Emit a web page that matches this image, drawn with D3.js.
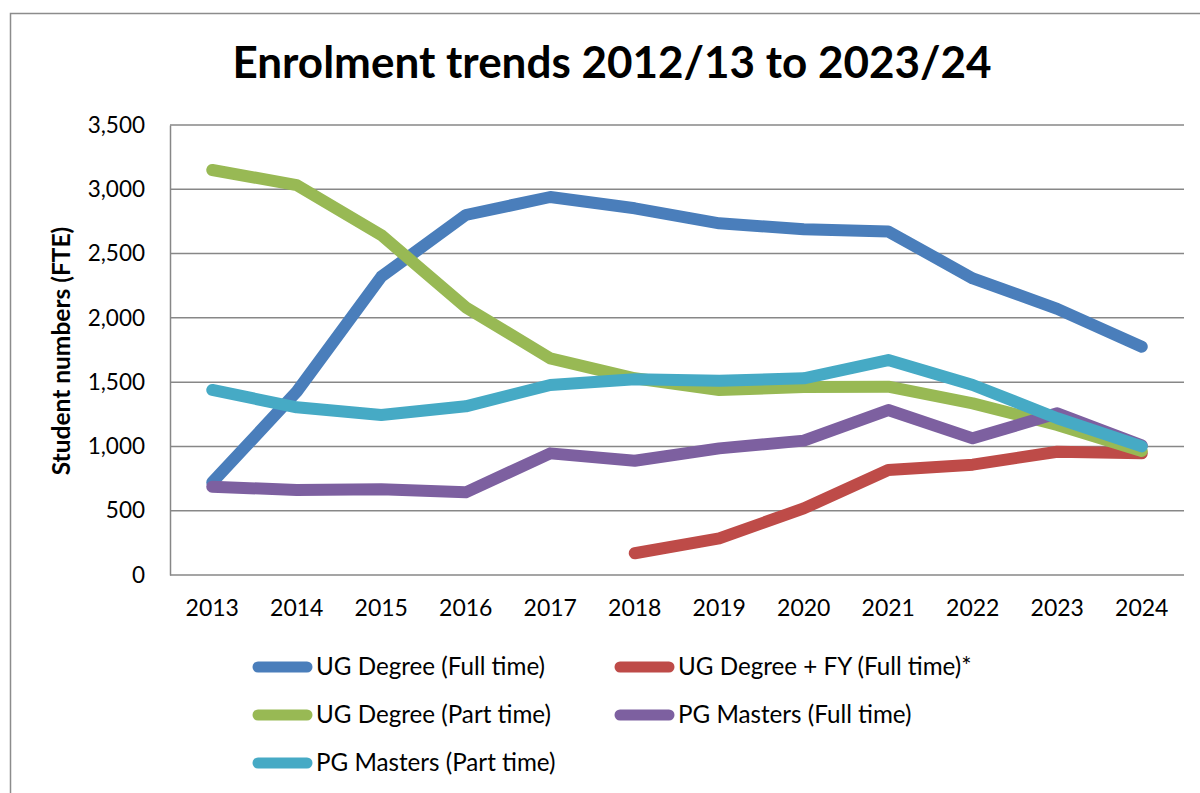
<!DOCTYPE html>
<html>
<head>
<meta charset="utf-8">
<script src="https://cdn.jsdelivr.net/npm/d3@7"></script>
<style>
  html, body { margin: 0; padding: 0; background: #fff; }
  svg { display: block; }
  text { font-family: Lato, "Open Sans", sans-serif; fill: #000; }
</style>
</head>
<body>
<svg id="chart" width="1200" height="793"></svg>
<script>
// Academic years (end year of each session)
const years = ["2013", "2014", "2015", "2016", "2017", "2018", "2019", "2020", "2021", "2022", "2023", "2024"];

// Student numbers (FTE) per programme type
const ugFullTime     = [720, 1426, 2320, 2800, 2940, 2852, 2735, 2689, 2672, 2307, 2070, 1776];
const ugFyFullTime   = [null, null, null, null, null, 169, 285, 518, 817, 858, 959, 946];
const ugPartTime     = [3150, 3033, 2644, 2082, 1685, 1530, 1439, 1462, 1465, 1335, 1167, 964];
const pgFullTime     = [687, 661, 666, 643, 946, 889, 985, 1045, 1283, 1063, 1258, 1008];
const pgPartTime     = [1439, 1304, 1244, 1312, 1478, 1522, 1511, 1530, 1672, 1478, 1219, 1000];

const seriesNames  = ["UG Degree (Full time)", "UG Degree + FY (Full time)*", "UG Degree (Part time)", "PG Masters (Full time)", "PG Masters (Part time)"];
const seriesColors = ["#4A7EBB", "#BE4B48", "#98B954", "#7D60A0", "#46AAC5"];
const seriesValues = [ugFullTime, ugFyFullTime, ugPartTime, pgFullTime, pgPartTime];

const yTicks = [0, 500, 1000, 1500, 2000, 2500, 3000, 3500];

const svg = d3.select("#chart");

// outer chart frame
svg.append("rect")
  .attr("x", 10.5).attr("y", 13.5)
  .attr("width", 1200).attr("height", 800)
  .attr("fill", "none")
  .attr("stroke", "#8c8c8c")
  .attr("stroke-width", 1.5);

const plot = { left: 170, right: 1184, top: 125, bottom: 575 };

const x = d3.scaleBand().domain(years).range([plot.left, plot.right]);
const y = d3.scaleLinear().domain([0, 3500]).range([plot.bottom, plot.top]);

// title
svg.append("text")
  .attr("x", 612).attr("y", 78)
  .attr("text-anchor", "middle")
  .style("font-size", "44px")
  .style("font-weight", "bold")
  .text("Enrolment trends 2012/13 to 2023/24");

// horizontal gridlines
svg.append("g")
  .selectAll("line")
  .data(yTicks)
  .join("line")
  .attr("x1", plot.left).attr("x2", plot.right)
  .attr("y1", d => y(d)).attr("y2", d => y(d))
  .attr("stroke", "#878787")
  .attr("stroke-width", 1.5);

// y axis
const yAxis = svg.append("g")
  .attr("transform", `translate(${plot.left},0)`)
  .call(d3.axisLeft(y).tickValues(yTicks).tickSize(0).tickPadding(25).tickFormat(d3.format(",")));
yAxis.select(".domain").attr("stroke", "#878787").attr("stroke-width", 1.5);
yAxis.selectAll("text").style("font-size", "22.5px").style("font-family", "Lato, sans-serif").attr("fill", "#000");

// x axis labels
const xAxis = svg.append("g")
  .attr("transform", `translate(0,${plot.bottom})`)
  .call(d3.axisBottom(x).tickSize(0).tickPadding(25));
xAxis.select(".domain").remove();
xAxis.selectAll("text").style("font-size", "23px").style("font-family", "Lato, sans-serif").attr("fill", "#000");

// y axis title
svg.append("text")
  .attr("transform", "translate(70,351) rotate(-90)")
  .attr("text-anchor", "middle")
  .style("font-size", "24.5px")
  .style("font-weight", "bold")
  .text("Student numbers (FTE)");

// series lines
const line = d3.line()
  .defined(d => d != null)
  .x((d, i) => x(years[i]) + x.bandwidth() / 2)
  .y(d => y(d));

svg.append("g")
  .selectAll("path")
  .data(seriesValues)
  .join("path")
  .attr("d", d => line(d))
  .attr("fill", "none")
  .attr("stroke", (d, i) => seriesColors[i])
  .attr("stroke-width", 12)
  .attr("stroke-linecap", "round")
  .attr("stroke-linejoin", "round");

// legend: two columns, filled row by row
const legendCols = [253, 615];
const legendRows = [667, 715, 763];
const legend = svg.append("g")
  .selectAll("g")
  .data(seriesNames)
  .join("g")
  .attr("transform", (d, i) => `translate(${legendCols[i % 2]},${legendRows[Math.floor(i / 2)]})`);

legend.append("line")
  .attr("x1", 5).attr("x2", 54)
  .attr("y1", 0).attr("y2", 0)
  .attr("stroke", (d, i) => seriesColors[i])
  .attr("stroke-width", 11)
  .attr("stroke-linecap", "round");

legend.append("text")
  .attr("x", 63).attr("y", 0)
  .attr("dy", "0.35em")
  .style("font-size", "24.2px")
  .text(d => d);
</script>
</body>
</html>
